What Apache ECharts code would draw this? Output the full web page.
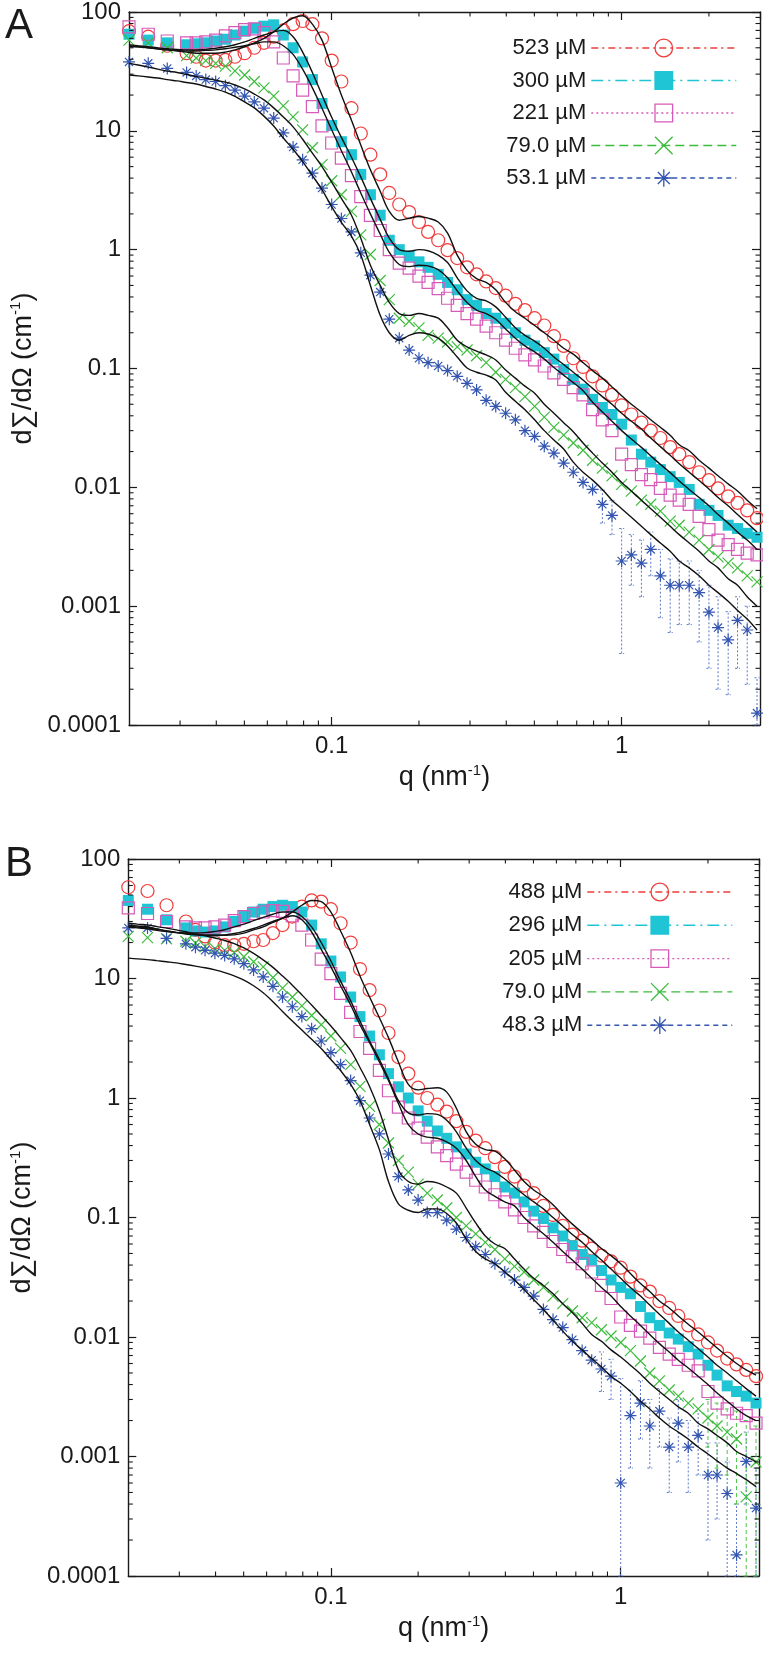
<!DOCTYPE html>
<html><head><meta charset="utf-8">
<script src="https://cdn.jsdelivr.net/npm/echarts@6/dist/echarts.min.js"></script>
<style>html,body{margin:0;padding:0;background:#fff;}#c{width:763px;height:1655px;}</style>
</head><body><div id="c"></div>
<script>
// q grid (nm^-1)
const qGrid = [0.0200,0.0215,0.0233,0.0251,0.0271,0.0293,0.0316,0.0341,0.0368,0.0398,0.0430,0.0464,0.0501,0.0541,0.0584,0.0631,0.0681,0.0736,0.0794,0.0858,0.0926,
0.100,0.108,0.117,0.126,0.136,0.147,0.158,0.171,0.185,0.200,0.215,0.233,0.251,0.271,0.293,0.316,0.341,0.368,0.398,0.430,0.464,0.501,0.541,0.584,0.631,0.681,0.736,0.794,0.858,0.926,
1.00,1.08,1.17,1.26,1.36,1.47,1.58,1.71,1.85,2.00,2.15,2.33,2.51,2.71,2.93];
// error bars are given for the last points of the grid (from q = 0.858)
const errStart = 49;

const namesA = ['523 µM','300 µM','221 µM','79.0 µM','53.1 µM'];
const namesB = ['488 µM','296 µM','205 µM','79.0 µM','48.3 µM'];

// Panel A measured data (null = no measured point at that q)
const A_523 = [69,null,62,null,52,null,45,42,39,39,39.5,42,45,50,55,62,70,79,84,79,60,39,26,15.5,9.5,6.3,4.3,3.0,2.4,2.07,1.71,1.41,1.2,0.99,0.85,0.71,0.62,0.54,0.475,0.41,0.35,0.31,0.265,0.23,0.187,0.155,0.122,0.103,0.086,0.072,0.06,0.049,0.041,0.035,0.03,0.026,0.0218,0.019,0.0163,0.0134,0.0115,0.0098,0.0084,0.0074,0.0064,0.0055];
const A_300 = [65,null,58,null,55,null,53,54,55,57,59,64,69,73,76,78,64,50,38,27,17,11.1,8.1,6.3,4.3,2.9,1.95,1.2,1.0,0.88,0.79,0.71,0.62,0.53,0.46,0.38,0.34,0.29,0.265,0.24,0.2,0.173,0.155,0.136,0.12,0.098,0.081,0.067,0.055,0.047,0.041,0.034,0.025,0.019,0.0163,0.0141,0.0123,0.011,0.0096,0.0072,0.0064,0.0058,0.0048,0.0045,0.0041,0.0038];
const A_221 = [75,null,65,null,57,null,55,55,56,58,63,67,71,72,67,56,41,29,22,16,11,7.9,5.9,4.2,2.8,1.94,1.45,1.0,0.77,0.7,0.6,0.53,0.47,0.39,0.34,0.29,0.26,0.227,0.2,0.173,0.148,0.13,0.118,0.105,0.092,0.081,0.069,0.06,0.045,0.037,0.03,0.019,0.0155,0.0128,0.0116,0.0098,0.0086,0.0078,0.0072,0.0057,0.0044,0.0036,0.0033,0.003,0.0028,0.0027];
const A_79 = [58,null,55,null,50,null,43,41,39,37,35,32,29.5,26,23,19.6,16.2,13.1,10.2,7.2,5.2,3.8,2.9,2.1,1.33,0.91,0.55,0.38,0.265,0.25,0.22,0.19,0.18,0.167,0.152,0.143,0.128,0.112,0.093,0.081,0.069,0.058,0.048,0.039,0.032,0.0275,0.0236,0.0205,0.0169,0.0145,0.0125,0.0106,0.0093,0.0078,0.0072,0.0063,0.0052,0.0048,0.0042,0.0036,0.003,0.0026,0.0023,0.0021,0.0018,0.0016];
const A_53 = [38,null,37,null,33.5,null,31,29,27,26,24,22,19.6,17.5,15.5,12.8,9.6,7.3,5.7,4.4,3.3,2.4,1.83,1.41,0.94,0.61,0.44,0.26,0.18,0.143,0.122,0.112,0.105,0.096,0.086,0.075,0.066,0.054,0.048,0.042,0.037,0.03,0.0268,0.0222,0.0194,0.016,0.0134,0.011,0.0096,0.0072,0.0058,0.0024,0.0027,0.0023,0.003,0.0018,0.0015,0.0015,0.0015,0.0013,0.00089,0.00066,0.00052,0.00076,0.00063,0.000126];
const A_53_lo = [0.005,0.004,0.0004,0.0015,0.0012,0.0018,0.0008,0.0006,0.0007,0.0007,0.0005,0.0003,0.0002,0.00018,0.0003,0.00022,0.0001];
const A_53_hi = [0.0095,0.0078,0.0045,0.004,0.0036,0.0042,0.003,0.0025,0.0024,0.0024,0.002,0.0015,0.0012,0.0009,0.0012,0.001,0.00025];

// Panel A fits
const FA_523 = [51,51,50,49,48,47,46,45,45,45,46,48,51,55,60,68,79,89,93,79,58,34,20,12.3,7.6,4.7,3.1,2.1,1.77,1.84,1.9,1.84,1.71,1.38,0.9,0.67,0.57,0.53,0.46,0.36,0.3,0.265,0.23,0.2,0.173,0.148,0.132,0.112,0.096,0.083,0.07,0.059,0.05,0.043,0.037,0.032,0.0274,0.0228,0.0203,0.0169,0.0145,0.0125,0.0107,0.0093,0.0078,0.0066];
const FA_300 = [53,52,51,50,49,48.5,48,48,48.5,49.5,51,53,56,60,64,68,70,62,46,31,20,13,8.8,6.0,4.1,2.7,1.8,1.25,1.0,0.97,1.0,0.98,0.9,0.78,0.58,0.45,0.39,0.37,0.33,0.27,0.22,0.19,0.17,0.148,0.125,0.108,0.093,0.08,0.068,0.058,0.05,0.042,0.036,0.031,0.026,0.022,0.0186,0.0158,0.0134,0.0114,0.0097,0.0082,0.007,0.0059,0.005,0.0042];
const FA_221 = [52,51,50,49,48,47.5,47,47,47.5,48,49,50.5,52,54,56,56,52,44,33,23,15.5,10.2,6.8,4.5,3.0,2.0,1.35,0.95,0.75,0.72,0.74,0.73,0.68,0.58,0.45,0.36,0.31,0.29,0.26,0.215,0.18,0.155,0.138,0.12,0.102,0.088,0.076,0.065,0.052,0.043,0.036,0.03,0.0255,0.0217,0.0184,0.0156,0.0133,0.0113,0.0096,0.0082,0.007,0.0059,0.005,0.0042,0.0036,0.003];
const FA_79 = [37,35.8,34.4,33.1,31.8,31,29.8,28.6,27.8,26.7,25.7,24.3,22.5,20.4,18.2,15.6,13.1,10.8,8.5,6.5,5.0,3.7,2.7,1.95,1.25,0.74,0.5,0.36,0.29,0.28,0.29,0.28,0.265,0.22,0.173,0.152,0.14,0.13,0.118,0.097,0.083,0.071,0.062,0.05,0.042,0.035,0.0294,0.0236,0.0194,0.016,0.0134,0.011,0.0093,0.0078,0.0066,0.0056,0.0047,0.004,0.0034,0.0029,0.0024,0.0021,0.0017,0.0015,0.0012,0.001];
const FA_53 = [29.5,29,28.4,27.8,27,26.3,25.5,24.8,23.6,22.5,21.2,19.5,17.5,15.6,13.3,11,8.7,7,5.5,4.2,3.2,2.3,1.7,1.3,0.9,0.5,0.28,0.2,0.173,0.19,0.2,0.195,0.18,0.155,0.125,0.101,0.093,0.088,0.08,0.063,0.053,0.045,0.037,0.03,0.025,0.021,0.0163,0.0134,0.0115,0.0096,0.0078,0.0066,0.0056,0.0047,0.004,0.0034,0.0029,0.0024,0.0021,0.0018,0.0015,0.0013,0.0011,0.00092,0.00078,0.00063];

// Panel B measured data (null = no measured point at that q)
const B_488 = [58,null,54,null,41,null,30,25.5,22.5,20,19,19,19.5,20.5,21,24,28,33,40,45,44,38,29,20,12,8.0,5.4,3.5,2.2,1.6,1.22,1.0,0.88,0.77,0.64,0.52,0.44,0.38,0.32,0.265,0.22,0.185,0.16,0.125,0.105,0.085,0.072,0.064,0.055,0.048,0.043,0.038,0.032,0.027,0.024,0.02,0.0175,0.015,0.0125,0.0105,0.009,0.0077,0.0066,0.0059,0.0053,0.0047];
const B_296 = [45,null,38,null,31,null,26.5,25,24.5,25,27,30,33,36,38,40,41,40,36,28,19.5,14,10.3,7.0,4.8,3.3,2.3,1.6,1.24,1.0,0.78,0.64,0.53,0.46,0.39,0.34,0.29,0.255,0.22,0.18,0.16,0.135,0.113,0.098,0.082,0.07,0.058,0.049,0.044,0.036,0.03,0.026,0.023,0.018,0.0145,0.0125,0.0108,0.0096,0.0083,0.0072,0.0058,0.0048,0.0039,0.0035,0.0032,0.0028];
const B_205 = [39,null,35,null,30,null,27,26.5,26.5,27,28,30.5,33,35,36,37,36.5,33.5,28,21,14.5,11,7.5,5.2,3.6,2.6,1.7,1.15,0.84,0.68,0.56,0.47,0.39,0.33,0.28,0.24,0.205,0.18,0.155,0.135,0.116,0.1,0.085,0.075,0.063,0.054,0.047,0.041,0.035,0.027,0.021,0.0147,0.0125,0.0112,0.0098,0.0082,0.0072,0.0065,0.0058,0.0052,0.0035,0.0028,0.0025,0.0023,0.0022,0.0019];
const B_79 = [22.5,null,22,null,21.5,null,20.5,19.8,18.5,17.8,17.2,16.5,15.2,13.8,12.5,10.2,8.3,7.0,5.9,4.9,4.1,3.3,2.6,1.9,1.25,0.85,0.6,0.42,0.3,0.24,0.19,0.16,0.14,0.12,0.1,0.085,0.073,0.062,0.054,0.045,0.039,0.035,0.03,0.026,0.022,0.019,0.0165,0.0145,0.0132,0.0115,0.0102,0.009,0.0077,0.0063,0.005,0.0043,0.0036,0.0032,0.0028,0.0025,0.0021,0.0018,0.0016,0.0014,0.00046,0.0009];
const B_79_lo = [null,null,null,null,null,null,null,null,null,null,null,0.0012,0.0008,0.0007,0.0004,0.0001,0.0001];
const B_79_hi = [null,null,null,null,null,null,null,null,null,null,null,0.003,0.0028,0.0025,0.0024,0.002,0.0018];
const B_48 = [26.5,null,26.5,null,21.7,null,19.5,18.3,17.2,16.3,15.6,14.6,13.3,11.8,10.3,8.6,7.0,5.8,4.8,3.8,3.0,2.4,1.9,1.4,0.95,0.68,0.5,0.34,0.22,0.17,0.14,0.11,0.11,0.095,0.08,0.068,0.057,0.049,0.041,0.035,0.03,0.026,0.022,0.017,0.014,0.012,0.0095,0.0077,0.0064,0.0054,0.0047,0.0006,0.0022,0.0028,0.0018,0.0024,0.0012,0.0019,0.0012,0.0015,0.0007,0.0007,0.00049,0.00015,0.00091,0.00037];
const B_48_lo = [0.0035,0.003,0.0001,0.0008,0.0014,0.0008,0.0012,0.0005,0.0009,0.0005,0.0007,0.0002,0.0003,0.0001,0.0001,0.0004,0.0001];
const B_48_hi = [0.0075,0.0065,0.0045,0.0036,0.0043,0.003,0.0037,0.0021,0.003,0.002,0.0024,0.0013,0.0013,0.0009,0.0004,0.0016,0.0008];

// Panel B fits
const FB_488 = [28,27.5,27,26,25,24.2,23.6,23.2,23,23,23,23.2,24,25.5,27,29.5,32,36,41,45,44,36,25,16.5,10.5,7.0,4.7,3.2,2.0,1.3,1.17,1.2,1.22,1.12,0.82,0.52,0.41,0.37,0.36,0.31,0.25,0.2,0.17,0.15,0.128,0.105,0.088,0.075,0.065,0.055,0.048,0.041,0.034,0.028,0.024,0.02,0.0175,0.015,0.0128,0.011,0.0094,0.0081,0.0069,0.006,0.0053,0.0048];
const FB_296 = [27,26.5,26,25.3,24.7,24.2,24,24,24.2,24.8,25.6,27,28.5,30.5,32.5,34.5,36,36,33,27,20,14,9.5,6.5,4.4,3.0,2.1,1.45,0.95,0.75,0.72,0.74,0.73,0.65,0.52,0.38,0.3,0.26,0.24,0.21,0.18,0.155,0.135,0.118,0.1,0.085,0.072,0.062,0.052,0.044,0.037,0.031,0.026,0.022,0.0185,0.0155,0.013,0.011,0.0094,0.008,0.0068,0.0058,0.005,0.0043,0.0037,0.0032];
const FB_205 = [27.5,27,26.5,25.8,25,24.3,23.8,23.3,23,23,23.2,23.8,24.8,26.2,28,30,32,33.5,31,24.5,17.5,12.5,8.7,6.0,4.1,2.9,2.0,1.4,0.9,0.6,0.5,0.47,0.46,0.43,0.38,0.3,0.22,0.17,0.15,0.135,0.125,0.1,0.085,0.073,0.062,0.052,0.044,0.037,0.031,0.026,0.022,0.018,0.015,0.0125,0.0105,0.0088,0.0075,0.0064,0.0055,0.0047,0.004,0.0034,0.0029,0.0025,0.0022,0.002];
const FB_79 = [29,28.5,28,27.2,26.4,25.5,24.6,23.6,22.8,21.8,20.8,19.6,18,16.2,14.3,12.4,10.5,8.8,7.3,6,4.9,4,3.2,2.5,1.8,1.25,0.78,0.45,0.25,0.2,0.19,0.2,0.195,0.18,0.16,0.12,0.09,0.07,0.06,0.055,0.045,0.037,0.031,0.027,0.023,0.019,0.016,0.013,0.0105,0.0092,0.0078,0.0068,0.0058,0.0049,0.0041,0.0035,0.003,0.0026,0.0023,0.0019,0.0017,0.0015,0.0013,0.0011,0.001,0.0009];
const FB_48 = [14.8,14.6,14.4,14.1,13.8,13.5,13.1,12.7,12.3,11.8,11.2,10.5,9.7,8.7,7.6,6.4,5.3,4.4,3.7,3.1,2.6,2.1,1.7,1.3,0.95,0.6,0.37,0.2,0.13,0.115,0.11,0.118,0.118,0.108,0.09,0.066,0.052,0.045,0.041,0.035,0.03,0.025,0.0205,0.017,0.0138,0.0112,0.0092,0.0078,0.0066,0.0056,0.0047,0.0041,0.0035,0.0029,0.0025,0.0021,0.0018,0.0016,0.0014,0.0012,0.00105,0.00092,0.0008,0.00072,0.00064,0.00056];

// axis ticks / labels
const xMajor = [0.1, 1];
const xMajorLabels = ['0.1', '1'];
const yMajor = [0.0001, 0.001, 0.01, 0.1, 1, 10, 100];
const yMajorLabels = ['0.0001', '0.001', '0.01', '0.1', '1', '10', '100'];
const xMinor = [0.03,0.04,0.05,0.06,0.07,0.08,0.09,0.2,0.3,0.4,0.5,0.6,0.7,0.8,0.9,2];
const minorMult = [2,3,4,5,6,7,8,9];

const FONT = '"Liberation Sans", Arial, sans-serif';
const INK = '#1a1a1a';

const markStyles = [
  {symbol:'circle', size:13, fill:'rgba(255,255,255,0)', stroke:'#f03c3c', bw:1.2, dash:[7,4,2,4]},
  {symbol:'rect', size:11, fill:'#1fc5d5', stroke:'#1fc5d5', bw:0, dash:[12,5,2,5]},
  {symbol:'rect', size:12, fill:'rgba(255,255,255,0)', stroke:'#d65bb8', bw:1.2, dash:[2,3]},
  {symbol:'path://M0,0L10,10M10,0L0,10', size:11, fill:'rgba(255,255,255,0)', stroke:'#3cbc3c', bw:1.2, dash:[9,5]},
  {symbol:'path://M5,0L5,10M0,5L10,5M1.6,1.6L8.4,8.4M8.4,1.6L1.6,8.4', size:12, fill:'rgba(255,255,255,0)', stroke:'#3456b0', bw:1.2, dash:[5,4]}
];

function pairs(ys){ return qGrid.map((q,i)=>[q, ys[i]]); }
function labelFor(v, vals, labs){
  for (let i=0;i<vals.length;i++){ if (Math.abs(Math.log10(v)-Math.log10(vals[i]))<1e-6) return labs[i]; }
  return '';
}
function xAxisDef(gi, pos, withLabel){
  return {type:'log', logBase:10, gridIndex:gi, position:pos, min:0.02, max:3,
    axisLine:{show:true, onZero:false, lineStyle:{color:INK, width:1.4}},
    axisTick:{show:true, inside:true, length:8, lineStyle:{color:INK, width:1.2}},
    axisLabel: withLabel ? {show:true, fontSize:24, fontFamily:FONT, color:INK, margin:9,
      showMinLabel:false, showMaxLabel:false, formatter:v=>labelFor(v,xMajor,xMajorLabels)} : {show:false},
    splitLine:{show:false},
    name: withLabel ? 'q (nm{sup|-1})' : '', nameLocation:'middle', nameGap:38,
    nameTextStyle:{fontSize:27, fontFamily:FONT, color:INK, rich:{sup:{fontSize:15, fontFamily:FONT, color:INK, padding:[0,0,14,0]}}}
  };
}
function yAxisDef(gi, pos, withLabel){
  return {type:'log', logBase:10, gridIndex:gi, position:pos, min:0.0001, max:100,
    axisLine:{show:true, onZero:false, lineStyle:{color:INK, width:1.4}},
    axisTick:{show:true, inside:true, length:8, lineStyle:{color:INK, width:1.2}},
    axisLabel: withLabel ? {show:true, fontSize:24, fontFamily:FONT, color:INK, margin:8,
      formatter:v=>labelFor(v,yMajor,yMajorLabels)} : {show:false},
    splitLine:{show:false},
    name: withLabel ? 'd∑/dΩ (cm{sup|-1})' : '', nameLocation:'middle', nameGap:80,
    nameTextStyle:{fontSize:27, fontFamily:FONT, color:INK, rich:{sup:{fontSize:15, fontFamily:FONT, color:INK, padding:[0,0,14,0]}}}
  };
}
function minorData(){
  const d = xMinor.map(v=>[v,1,0]);
  yMajor.slice(0,-1).forEach(dec=>minorMult.forEach(m=>d.push([1, +(dec*m).toPrecision(3), 1])));
  return d;
}
function renderMinor(params, api){
  const cs = params.coordSys; const L = 4.5;
  const st = {stroke:INK, lineWidth:1.1};
  if (api.value(2) === 0){
    const x = api.coord([api.value(0), 1])[0];
    return {type:'group', children:[
      {type:'line', shape:{x1:x, y1:cs.y+cs.height, x2:x, y2:cs.y+cs.height-L}, style:st},
      {type:'line', shape:{x1:x, y1:cs.y, x2:x, y2:cs.y+L}, style:st}]};
  }
  const y = api.coord([1, api.value(1)])[1];
  return {type:'group', children:[
    {type:'line', shape:{x1:cs.x, y1:y, x2:cs.x+L, y2:y}, style:st},
    {type:'line', shape:{x1:cs.x+cs.width, y1:y, x2:cs.x+cs.width-L, y2:y}, style:st}]};
}
function errSeries(lo, hi, color, dash, xi, yi){
  const d = [];
  lo.forEach((l,i)=>{ if (l!=null && hi[i]!=null) d.push([qGrid[errStart+i], l, hi[i]]); });
  return {type:'custom', xAxisIndex:xi, yAxisIndex:yi, data:d, encode:{x:0, y:[1,2]}, silent:true, z:1,
    renderItem:(params, api)=>{
      const p1 = api.coord([api.value(0), api.value(1)]);
      const p2 = api.coord([api.value(0), api.value(2)]);
      const st = {stroke:color, lineWidth:1, lineDash:dash};
      return {type:'group', children:[
        {type:'line', shape:{x1:p1[0], y1:p1[1], x2:p2[0], y2:p2[1]}, style:st},
        {type:'line', shape:{x1:p1[0]-2.5, y1:p1[1], x2:p1[0]+2.5, y2:p1[1]}, style:st},
        {type:'line', shape:{x1:p2[0]-2.5, y1:p2[1], x2:p2[0]+2.5, y2:p2[1]}, style:st}]};
    }};
}

function dataSeries(names, arrays, xi, yi){
  return names.map((n,i)=>{
    const s = markStyles[i];
    return {type:'line', name:n, xAxisIndex:xi, yAxisIndex:yi, data:pairs(arrays[i]),
      symbol:s.symbol, symbolSize:s.size, showAllSymbol:true, connectNulls:true, z:2,
      itemStyle:{color:s.fill, borderColor:s.stroke, borderWidth:s.bw},
      lineStyle:{color:s.stroke, width:0}, emphasis:{disabled:true}, animation:false};
  });
}
function fitSeries(arrays, xi, yi){
  return arrays.map(a=>({type:'line', xAxisIndex:xi, yAxisIndex:yi, data:pairs(a), symbol:'none',
    smooth:0.35, z:4, lineStyle:{color:'#111', width:1.4}, emphasis:{disabled:true}, animation:false, silent:true}));
}
function legendDef(names, top, right, gap){
  return {orient:'vertical', align:'right', top:top, right:right, itemWidth:145, itemHeight:22, itemGap:gap,
    selectedMode:false, textStyle:{fontSize:22, fontFamily:FONT, color:INK},
    lineStyle:{width:1.4}, itemStyle:{borderWidth:1.3},
    data: names.map((n,i)=>({name:n, lineStyle:{type:markStyles[i].dash, width:1.4}}))};
}

const option = {
  animation:false,
  backgroundColor:'#fff',
  title:[
    {text:'A', left:0, top:0, textStyle:{fontSize:42, fontWeight:'normal', fontFamily:FONT, color:INK}},
    {text:'B', left:0, top:838, textStyle:{fontSize:42, fontWeight:'normal', fontFamily:FONT, color:INK}}
  ],
  grid:[
    {left:129, top:12, width:631, height:713, containLabel:false},
    {left:124, top:859, width:635, height:717, containLabel:false}
  ],
  xAxis:[xAxisDef(0,'bottom',true), xAxisDef(0,'top',false), xAxisDef(1,'bottom',true), xAxisDef(1,'top',false)],
  yAxis:[yAxisDef(0,'left',true), yAxisDef(0,'right',false), yAxisDef(1,'left',true), yAxisDef(1,'right',false)],
  legend:[legendDef(namesA, 32, 21, 10.5), legendDef(namesB, 876, 25, 11.3)],
  series:[].concat(
    [errSeries(A_53_lo, A_53_hi, '#5a78c8', [2,2], 0, 0)],
    dataSeries(namesA, [A_523,A_300,A_221,A_79,A_53], 0, 0),
    fitSeries([FA_523,FA_300,FA_221,FA_79,FA_53], 0, 0),
    [{type:'custom', xAxisIndex:0, yAxisIndex:0, data:minorData(), encode:{x:0,y:1}, renderItem:renderMinor, silent:true, z:5, clip:false}],
    [errSeries(B_48_lo, B_48_hi, '#5a78c8', [2,2], 2, 2), errSeries(B_79_lo, B_79_hi, '#4cc44c', [4,3], 2, 2)],
    dataSeries(namesB, [B_488,B_296,B_205,B_79,B_48], 2, 2),
    fitSeries([FB_488,FB_296,FB_205,FB_79,FB_48], 2, 2),
    [{type:'custom', xAxisIndex:2, yAxisIndex:2, data:minorData(), encode:{x:0,y:1}, renderItem:renderMinor, silent:true, z:5, clip:false}]
  )
};
const chart = echarts.init(document.getElementById('c'), null, {renderer:'canvas'});
chart.setOption(option);
</script></body></html>
